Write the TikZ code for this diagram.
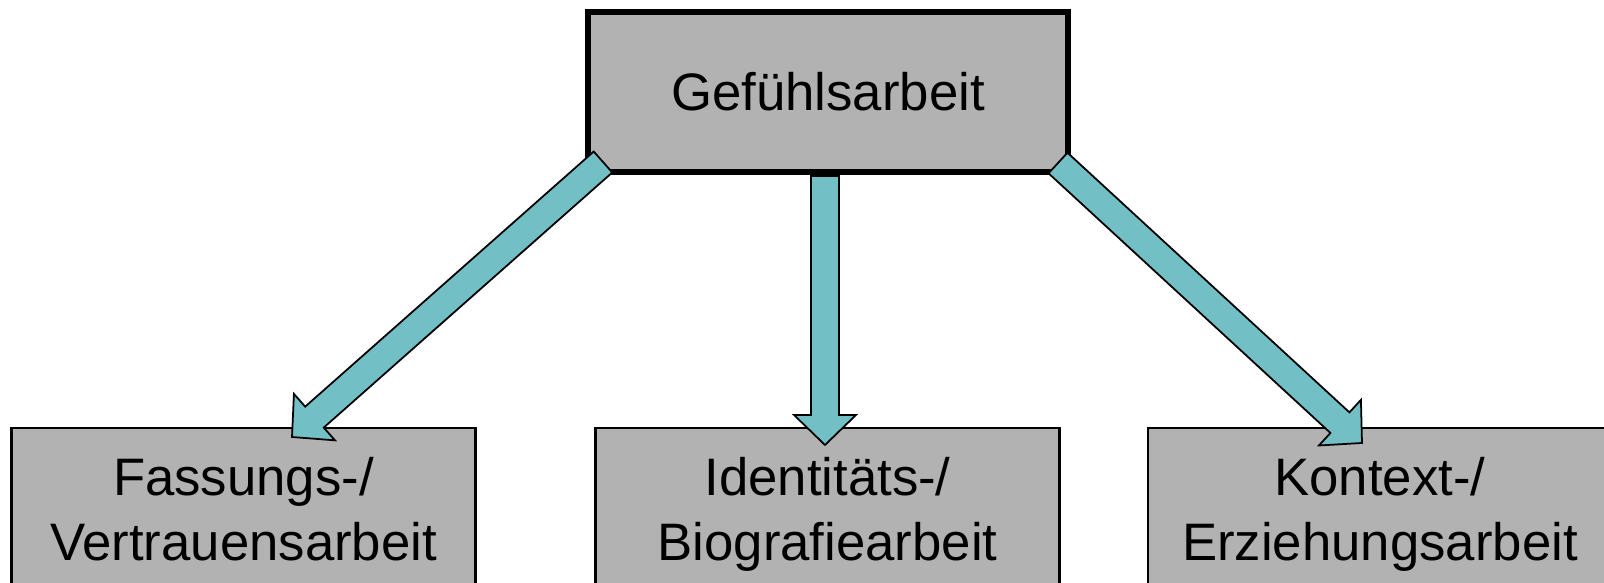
\documentclass[tikz,border=0pt]{standalone}
\usepackage{fontspec}
\setmainfont{Liberation Sans}
\usetikzlibrary{calc}
\definecolor{boxgray}{HTML}{B2B2B2}
\definecolor{arrowteal}{HTML}{72BFC5}
\tikzset{
  topbox/.style={draw, line width=1.6pt, fill=boxgray, minimum width=4.8cm, minimum height=1.6cm, outer sep=0pt, font=\fontsize{15}{18.5}\selectfont},
  subbox/.style={draw, line width=0.6pt, fill=boxgray, minimum width=4.64cm, minimum height=1.74cm, anchor=north, align=center, outer sep=0pt, text depth=3.3pt, font=\fontsize{15}{18.5}\selectfont},
  fatarrow/.style={draw=black, line width=0.5pt, fill=arrowteal},
}
% block arrow from #1 to #2 (shaft 0.28cm, head 0.62cm wide, 0.3cm long)
\newcommand{\fatarrow}[2]{%
  \coordinate (h) at ($(#2)!0.3cm!(#1)$);
  \draw[fatarrow] ($(#1)!0.14cm!90:(#2)$) -- ($(h)!0.14cm!90:(#2)$)
    -- ($(h)!0.31cm!90:(#2)$) -- (#2) -- ($(h)!0.31cm!-90:(#2)$)
    -- ($(h)!0.14cm!-90:(#2)$) -- ($(#1)!0.14cm!-90:(#2)$) -- cycle;
}

\begin{document}
\begin{tikzpicture}
  \useasboundingbox (0,0) rectangle (16.04,5.83);
  \clip (0,0) rectangle (16.04,5.83);

  \node[topbox] (gef) at (8.28,4.91) {Gefühlsarbeit};

  \node[subbox] (fass) at (2.435,1.55) {Fassungs-/\\Vertrauensarbeit};
  \node[subbox] (ident) at (8.275,1.55) {Identitäts-/\\Biografiearbeit};
  \node[subbox] (kont) at (13.80,1.55) {Kontext-/\\Erziehungsarbeit};

  % arrow ends
  \coordinate (fass0) at ($(gef.south west)+(0.15,0.10)$);
  \coordinate (fass1) at ($(fass.north)+(0.485,-0.09)$);
  \coordinate (ident0) at ($(gef.south)+(-0.03,-0.04)$);
  \coordinate (ident1) at ($(ident.north)+(-0.025,-0.17)$);
  \coordinate (kont0) at ($(gef.south east)+(-0.10,0.09)$);
  \coordinate (kont1) at ($(kont.north)+(-0.18,-0.15)$);

  \fatarrow{fass0}{fass1}
  \fatarrow{ident0}{ident1}
  \fatarrow{kont0}{kont1}
\end{tikzpicture}
\end{document}
